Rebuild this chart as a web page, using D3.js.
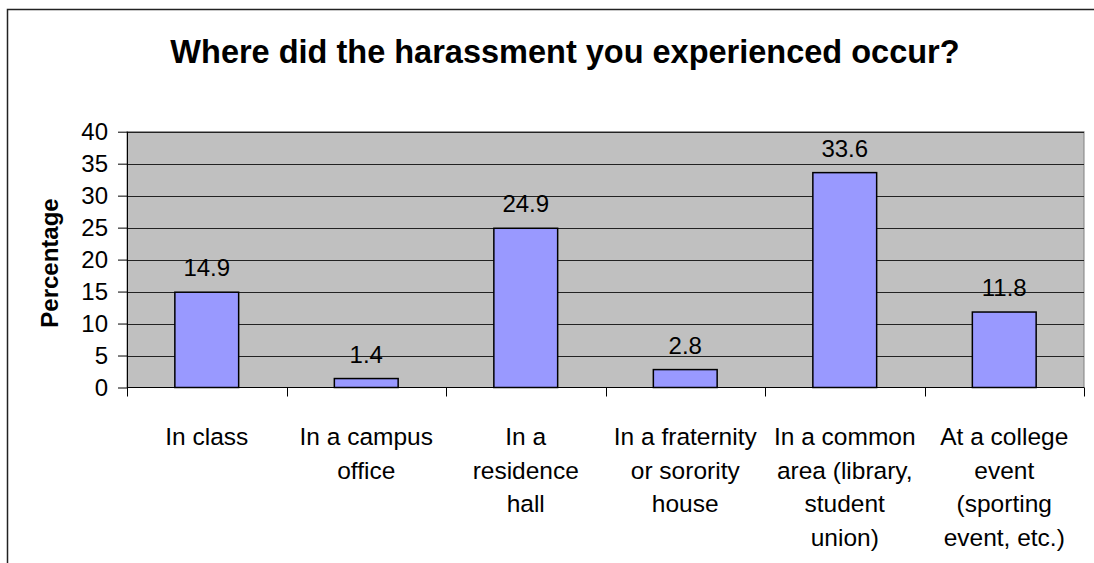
<!DOCTYPE html>
<html>
<head>
<meta charset="utf-8">
<script src="https://cdn.jsdelivr.net/npm/d3@7"></script>
<style>
  html, body { margin: 0; padding: 0; background: #fff; }
  svg { display: block; font-family: "Liberation Sans", Arial, sans-serif; }
</style>
</head>
<body>
<svg id="chart" width="1094" height="563"></svg>
<script>
// Locations where harassment occurred (line breaks mark label wrapping)
const categories = [
  "In class",
  "In a campus\noffice",
  "In a\nresidence\nhall",
  "In a fraternity\nor sorority\nhouse",
  "In a common\narea (library,\nstudent\nunion)",
  "At a college\nevent\n(sporting\nevent, etc.)"
];
const percentages = [14.9, 1.4, 24.9, 2.8, 33.6, 11.8];
const yTicks = [0, 5, 10, 15, 20, 25, 30, 35, 40];
const titleText = "Where did the harassment you experienced occur?";
const yAxisTitle = "Percentage";

const svg = d3.select("#chart");

// Chart frame
svg.append("rect")
  .attr("x", 7.5).attr("y", 9.5)
  .attr("width", 1200).attr("height", 700)
  .attr("fill", "#fff")
  .attr("stroke", "#222").attr("stroke-width", 1.5);

const plot = { left: 127, right: 1084, top: 131.7, bottom: 387.5 };

const x = d3.scaleBand()
  .domain(categories)
  .range([plot.left, plot.right])
  .paddingInner(0).paddingOuter(0);

const y = d3.scaleLinear()
  .domain([0, 40])
  .range([plot.bottom, plot.top]);

// Plot background
svg.append("rect")
  .attr("x", plot.left).attr("y", plot.top)
  .attr("width", plot.right - plot.left).attr("height", plot.bottom - plot.top)
  .attr("fill", "#c0c0c0")
  .attr("stroke", "#808080").attr("stroke-width", 1);

// Horizontal gridlines
svg.append("g")
  .selectAll("line")
  .data(yTicks.filter(d => d > 0))
  .join("line")
  .attr("x1", plot.left).attr("x2", plot.right)
  .attr("y1", d => Math.round(y(d)) + 0.5).attr("y2", d => Math.round(y(d)) + 0.5)
  .attr("stroke", "#222").attr("stroke-width", 1.2);

// Bars
const barW = x.bandwidth() * 0.4;
svg.append("g")
  .selectAll("rect")
  .data(percentages)
  .join("rect")
  .attr("x", (d, i) => x(categories[i]) + (x.bandwidth() - barW) / 2)
  .attr("y", d => y(d))
  .attr("width", barW)
  .attr("height", d => y(0) - y(d))
  .attr("fill", "#9999ff")
  .attr("stroke", "#000").attr("stroke-width", 1.5);

// Value labels
svg.append("g")
  .selectAll("text")
  .data(percentages)
  .join("text")
  .attr("x", (d, i) => x(categories[i]) + x.bandwidth() / 2)
  .attr("y", d => y(d) - 16)
  .attr("text-anchor", "middle")
  .attr("font-size", 24)
  .attr("fill", "#000")
  .text(d => d.toFixed(1));

// Y axis
const yAxis = d3.axisLeft(y)
  .tickValues(yTicks)
  .tickSize(9)
  .tickPadding(10)
  .tickFormat(d3.format("d"));
const yg = svg.append("g")
  .attr("transform", `translate(${plot.left},0)`)
  .call(yAxis);
yg.select(".domain").attr("stroke", "#000").attr("d", `M0.5,${plot.top}V${plot.bottom}`);
yg.selectAll(".tick line").attr("stroke", "#000");
yg.selectAll(".tick text")
  .attr("font-size", 24)
  .attr("font-family", "Liberation Sans, Arial, sans-serif")
  .attr("fill", "#000");

// X axis with ticks at category boundaries
const xg = svg.append("g");
xg.append("line")
  .attr("x1", plot.left).attr("x2", plot.right)
  .attr("y1", plot.bottom).attr("y2", plot.bottom)
  .attr("stroke", "#000").attr("stroke-width", 1.2);
const bounds = categories.map(c => x(c)).concat([plot.right]);
xg.selectAll("line.tk")
  .data(bounds)
  .join("line")
  .attr("class", "tk")
  .attr("x1", d => Math.round(d) + 0.5).attr("x2", d => Math.round(d) + 0.5)
  .attr("y1", plot.bottom).attr("y2", plot.bottom + 9)
  .attr("stroke", "#000");

// Category labels
const catLabels = xg.selectAll("text.cat")
  .data(categories)
  .join("text")
  .attr("class", "cat")
  .attr("text-anchor", "middle")
  .attr("font-size", 24.5)
  .attr("fill", "#000");
catLabels.each(function(c) {
  const lines = c.split("\n");
  d3.select(this).selectAll("tspan")
    .data(lines)
    .join("tspan")
    .attr("x", x(c) + x.bandwidth() / 2)
    .attr("y", (l, i) => 445 + i * 33.5)
    .text(l => l);
});

// Title
svg.append("text")
  .attr("x", 565).attr("y", 63)
  .attr("text-anchor", "middle")
  .attr("font-size", 32.5)
  .attr("font-weight", "bold")
  .attr("fill", "#000")
  .text(titleText);

// Y axis title
svg.append("text")
  .attr("transform", "translate(58,263) rotate(-90)")
  .attr("text-anchor", "middle")
  .attr("font-size", 24)
  .attr("font-weight", "bold")
  .attr("fill", "#000")
  .text(yAxisTitle);
</script>
</body>
</html>
